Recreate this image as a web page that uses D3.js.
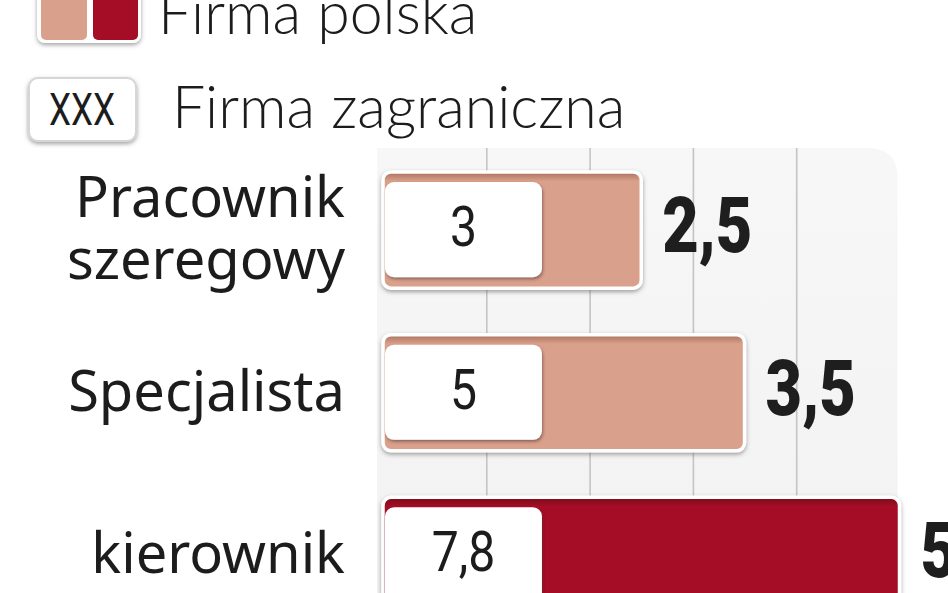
<!DOCTYPE html>
<html>
<head>
<meta charset="utf-8">
<script src="https://cdn.jsdelivr.net/npm/d3@7"></script>
<style>
  html, body { margin: 0; padding: 0; background: #ffffff; overflow: hidden; }
  svg { display: block; }
</style>
</head>
<body>
<svg id="chart" width="948" height="593"></svg>
<script>
// ---- data ----
const categories = ["Pracownik szeregowy", "Specjalista", "kierownik"];
const categoryLines = [["Pracownik", "szeregowy"], ["Specjalista"], ["kierownik"]];
const polishValues = [2.5, 3.5, 5];
const polishLabels = ["2,5", "3,5", "5"];
const foreignValues = [3, 5, 7.8];
const foreignLabels = ["3", "5", "7,8"];
const highlight = [false, false, true];
const gridTicks = [1, 2, 3, 4];
const legendItems = ["Firma polska", "Firma zagraniczna"];
const legendSample = "XXX";

// ---- styles ----
const SALMON = "#d9a08b";
const SALMON_DARK = "#a9705c";
const CRIMSON = "#a50d27";
const CRIMSON_DARK = "#7a0619";

const svg = d3.select("#chart");
const defs = svg.append("defs");

const sh = defs.append("filter").attr("id", "shadow")
  .attr("x", "-10%").attr("y", "-10%").attr("width", "120%").attr("height", "130%");
sh.append("feDropShadow").attr("dx", 0).attr("dy", 2).attr("stdDeviation", 2)
  .attr("flood-color", "#555").attr("flood-opacity", 0.55);

const sh2 = defs.append("filter").attr("id", "shadow2")
  .attr("x", "-10%").attr("y", "-10%").attr("width", "120%").attr("height", "130%");
sh2.append("feDropShadow").attr("dx", 1).attr("dy", 2).attr("stdDeviation", 1.6)
  .attr("flood-color", "#3a2a25").attr("flood-opacity", 0.5);

function grad(id, dark, base) {
  const g = defs.append("linearGradient").attr("id", id)
    .attr("x1", 0).attr("y1", 0).attr("x2", 0).attr("y2", 1);
  g.append("stop").attr("offset", "0%").attr("stop-color", dark);
  g.append("stop").attr("offset", "8%").attr("stop-color", base);
  g.append("stop").attr("offset", "100%").attr("stop-color", base);
}
grad("gSalmon", SALMON_DARK, SALMON);
grad("gCrimson", CRIMSON_DARK, CRIMSON);

const panelGrad = defs.append("linearGradient").attr("id", "gPanel")
  .attr("x1", 0).attr("y1", 0).attr("x2", 0).attr("y2", 1);
panelGrad.append("stop").attr("offset", "0%").attr("stop-color", "#f7f7f7");
panelGrad.append("stop").attr("offset", "100%").attr("stop-color", "#f2f2f2");

// ---- scales ----
const x = d3.scaleLinear().domain([0, 5]).range([383, 899.5]);
const y = d3.scaleBand().domain(categories).range([172, 613.5])
  .paddingInner(0.286).paddingOuter(0);

// ---- panel ----
const panelTop = 148;
const panelLeft = x(0) - 6;
const panelRight = x(5) - 2;
const r = 30;
svg.append("path")
  .attr("d", `M${panelLeft},${panelTop} L${panelRight - r},${panelTop} Q${panelRight},${panelTop} ${panelRight},${panelTop + r} L${panelRight},600 L${panelLeft},600 Z`)
  .attr("fill", "url(#gPanel)");

// grid lines via axis
const gridAxis = d3.axisTop(x).tickValues(gridTicks).tickSize(-(600 - panelTop)).tickFormat("");
const gGrid = svg.append("g").attr("transform", `translate(0,${panelTop})`).call(gridAxis);
gGrid.select(".domain").remove();
gGrid.selectAll(".tick line").attr("stroke", "#c4c4c4").attr("stroke-width", 1.6);

// ---- bars ----
const rows = categories.map((c, i) => ({
  cat: c, lines: categoryLines[i], pv: polishValues[i], pl: polishLabels[i],
  fv: foreignValues[i], fl: foreignLabels[i], hi: highlight[i]
}));

const bar = svg.selectAll("g.row").data(rows).enter().append("g").attr("class", "row");

bar.append("rect")
  .attr("x", x(0))
  .attr("y", d => y(d.cat))
  .attr("width", d => x(d.pv) - x(0))
  .attr("height", y.bandwidth())
  .attr("rx", 8)
  .attr("fill", d => d.hi ? "url(#gCrimson)" : "url(#gSalmon)")
  .attr("stroke", "#ffffff").attr("stroke-width", 3.5)
  .attr("filter", "url(#shadow)");

// foreign-firm value box
const boxW = x(1.5) - x(0) + 2;
bar.append("rect")
  .attr("x", x(0) + 2)
  .attr("y", d => y(d.cat) + 10)
  .attr("width", boxW)
  .attr("height", y.bandwidth() - 21)
  .attr("rx", 9)
  .attr("fill", "#ffffff")
  .attr("filter", "url(#shadow2)");

bar.append("text")
  .attr("transform", d => `translate(${x(0) + 2 + boxW / 2},${y(d.cat) + y.bandwidth() / 2 + 16}) scale(0.86,1)`)
  .attr("text-anchor", "middle")
  .attr("font-family", "Roboto, 'Liberation Sans', sans-serif")
  .attr("font-size", 56)
  .attr("fill", "#1c1c1c")
  .text(d => d.fl);

// polish value labels
bar.append("text")
  .attr("transform", d => `translate(${x(d.pv) + 21},${y(d.cat) + y.bandwidth() / 2 + 22}) scale(0.82,1)`)
  .attr("text-anchor", "start")
  .attr("font-family", "Roboto, 'Liberation Sans', sans-serif")
  .attr("font-weight", 900)
  .attr("font-size", 77)
  .attr("fill", "#1e1e1e")
  .text(d => d.pl);

// category labels
const catText = bar.append("text")
  .attr("text-anchor", "end")
  .attr("font-family", "'Noto Sans', 'Open Sans', sans-serif")
  .attr("font-size", 56)
  .attr("fill", "#1c1c1c");
catText.each(function(d) {
  const t = d3.select(this);
  const n = d.lines.length;
  const cy = y(d.cat) + y.bandwidth() / 2;
  d.lines.forEach((ln, k) => {
    t.append("tspan").attr("x", 345)
      .attr("y", cy + 18 + (k - (n - 1) / 2) * 62)
      .text(ln);
  });
});

// ---- legend ----
const lg = svg.append("g");
lg.append("rect").attr("x", 37).attr("y", -20).attr("width", 104).attr("height", 63)
  .attr("rx", 8).attr("fill", "#ffffff").attr("filter", "url(#shadow)");
lg.append("rect").attr("x", 41).attr("y", -20).attr("width", 46).attr("height", 60)
  .attr("rx", 5).attr("fill", SALMON);
lg.append("rect").attr("x", 93).attr("y", -20).attr("width", 45).attr("height", 60)
  .attr("rx", 5).attr("fill", CRIMSON);
lg.append("text").attr("x", 158).attr("y", 34)
  .attr("font-family", "Lato, 'Open Sans', sans-serif").attr("font-weight", 300)
  .attr("font-size", 59).attr("fill", "#1c1c1c").text(legendItems[0]);

lg.append("rect").attr("x", 29).attr("y", 78).attr("width", 107).attr("height", 63)
  .attr("rx", 9).attr("fill", "#ffffff").attr("stroke", "#d6d6d6").attr("stroke-width", 2)
  .attr("filter", "url(#shadow)");
lg.append("text")
  .attr("transform", "translate(82,125) scale(0.78,1)")
  .attr("text-anchor", "middle")
  .attr("font-family", "Roboto, 'Liberation Sans', sans-serif")
  .attr("font-size", 45).attr("fill", "#1c1c1c").text(legendSample);
lg.append("text").attr("x", 172).attr("y", 128)
  .attr("font-family", "Lato, 'Open Sans', sans-serif").attr("font-weight", 300)
  .attr("font-size", 59).attr("fill", "#1c1c1c").text(legendItems[1]);
</script>
</body>
</html>
